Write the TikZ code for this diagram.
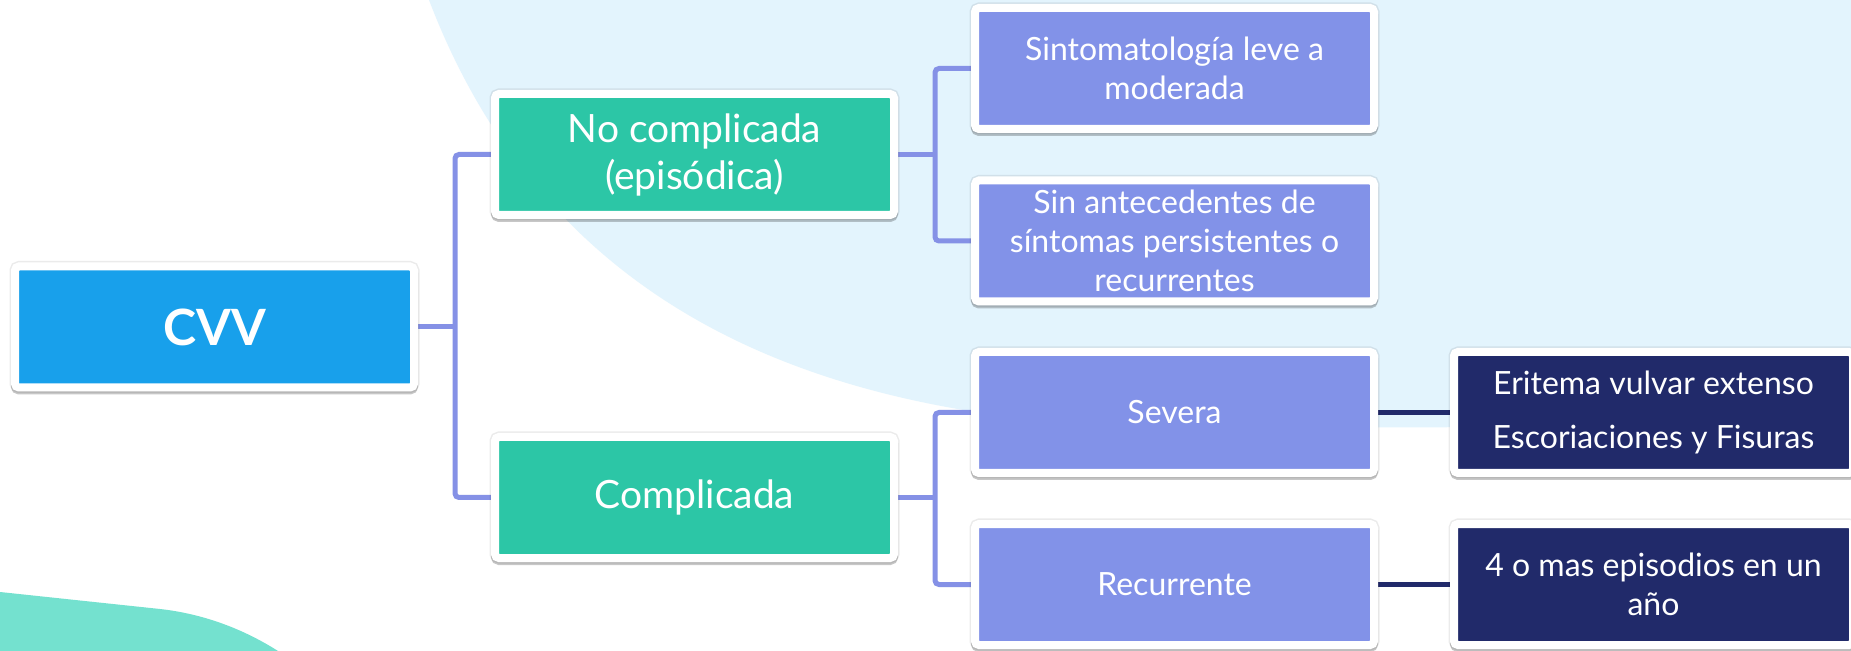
\documentclass[tikz,border=0pt]{standalone}
\usepackage{fontspec}
\setmainfont{Lato}
\usetikzlibrary{shadows}
\definecolor{cvvblue}{HTML}{18A0EB}
\definecolor{greenbox}{HTML}{2CC6A6}
\definecolor{lavbox}{HTML}{8292E8}
\definecolor{navybox}{HTML}{212A6A}
\definecolor{linklav}{HTML}{8591E6}
\definecolor{blobblue}{HTML}{E3F4FD}
\definecolor{tealblob}{HTML}{74E1CF}
\pgfdeclarelayer{background}
\pgfdeclarelayer{lines}
\pgfsetlayers{background,lines,main}
\tikzstyle{box} = [rectangle, draw=white, line width=4pt, rounded corners=2pt, minimum width=199.5pt, minimum height=60.5pt, inner sep=0pt, align=center, text=white,
	general shadow={shadow xshift=0pt, shadow yshift=0pt, opacity=0.08, fill=black, draw=black, line width=5.5pt},
	general shadow={shadow xshift=0pt, shadow yshift=-1.5pt, opacity=0.22, fill=black, draw=black, line width=4pt}]
\tikzstyle{smalltext} = [font=\fontsize{16}{19.5}\selectfont]
\tikzstyle{link} = [draw=linklav, line width=2.5pt, rounded corners=2pt]
\tikzstyle{navylink} = [draw=navybox, line width=2.5pt]

\begin{document}
\begin{tikzpicture}[x=0.5pt,y=-0.5pt]
	\useasboundingbox (0,0) rectangle (1851,651);
	\begin{pgfonlayer}{background}
		\fill[white] (0,0) rectangle (1851,651);
		\fill[blobblue] (429,0) .. controls (555,330) and (850,428) .. (1200,428) -- (1860,426) -- (1860,-5) -- (429,-5) -- cycle;
		\fill[tealblob] (0,592) -- (160,609) .. controls (205,614) and (245,630) .. (278,651) -- (0,651) -- cycle;
	\end{pgfonlayer}
	\node[box, fill=cvvblue, font=\bfseries\fontsize{25}{30}\selectfont] (cvv) at (214.5,327) {CVV};
	\node[box, fill=greenbox, font=\fontsize{19.5}{23.5}\selectfont] (nocomp) at (694.5,154.5) {No complicada\\(episódica)};
	\node[box, fill=greenbox, font=\fontsize{19.5}{23.5}\selectfont] (comp) at (694.5,497.5) {Complicada};
	\node[box, smalltext, fill=lavbox] (sinto) at (1174.5,68.5) {Sintomatología leve a\\moderada};
	\node[box, smalltext, fill=lavbox] (sinante) at (1174.5,241) {Sin antecedentes de\\síntomas persistentes o\\recurrentes};
	\node[box, smalltext, fill=lavbox] (severa) at (1174.5,412.5) {Severa};
	\node[box, smalltext, fill=lavbox] (recur) at (1174.5,584.5) {Recurrente};
	\node[box, smalltext, fill=navybox] (eritema) at (1653.5,412.5) {Eritema vulvar extenso\\[7.5pt]Escoriaciones y Fisuras};
	\node[box, smalltext, fill=navybox] (episod) at (1653.5,584.5) {4 o mas episodios en un\\año};
	\coordinate (trunk) at (455,327);
	\coordinate (forkno) at (935,154.5);
	\coordinate (forkcomp) at (935,497.5);
	\begin{pgfonlayer}{lines}
		\draw[link] (cvv.east) -- (trunk);
		\draw[link] (nocomp.west) -| (trunk) |- (comp.west);
		\draw[link] (nocomp.east) -- (forkno);
		\draw[link] (sinto.west) -| (forkno) |- (sinante.west);
		\draw[link] (comp.east) -- (forkcomp);
		\draw[link] (severa.west) -| (forkcomp) |- (recur.west);
		\draw[navylink] (severa) -- (eritema);
		\draw[navylink] (recur) -- (episod);
	\end{pgfonlayer}
\end{tikzpicture}
\end{document}
